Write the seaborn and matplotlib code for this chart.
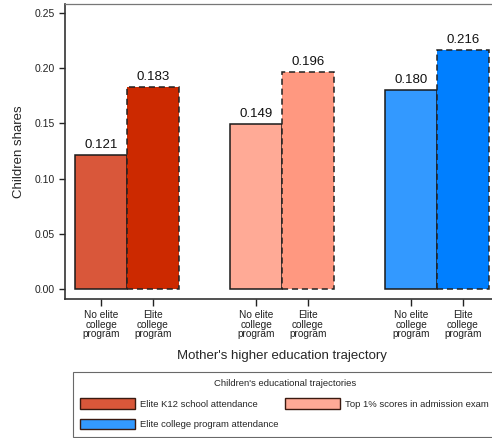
import matplotlib
matplotlib.use("Agg")
import matplotlib.pyplot as plt
from matplotlib.patches import Patch
import seaborn as sns
import pandas as pd

# bars: one per (group, mother trajectory), gaps between groups
categories = ["k12_no", "k12_elite", "gap1", "top_no", "top_elite", "gap2", "col_no", "col_elite"]
bar_keys = ["k12_no", "k12_elite", "top_no", "top_elite", "col_no", "col_elite"]
shares = [0.121, 0.183, 0.149, 0.196, 0.180, 0.216]
bar_colors = ["#D9573A", "#CC2900", "#FFAA96", "#FF9880", "#3399FF", "#007FFF"]
tick_labels = ["No elite\ncollege\nprogram", "Elite\ncollege\nprogram"] * 3
legend_labels = ["Elite K12 school attendance", "Top 1% scores in admission exam",
                 "Elite college program attendance"]
legend_colors = ["#D9573A", "#FFAA96", "#3399FF"]

sns.set_theme(style="white")
plt.rcParams["font.family"] = ["Liberation Sans", "DejaVu Sans"]

df = pd.DataFrame({"key": bar_keys, "share": shares})
palette = dict(zip(bar_keys, bar_colors))

fig = plt.figure(figsize=(4.92, 4.38), dpi=100)
ax = fig.add_axes([0.132, 0.3174, 0.882, 0.6735])

sns.barplot(data=df, x="key", y="share", hue="key", order=categories,
            palette=palette, dodge=False, legend=False, width=1.0,
            errorbar=None, saturation=1, ax=ax)

# solid outline for "no elite", dashed for "elite" mothers
for p in ax.patches:
    idx = int(round(p.get_x() + p.get_width() / 2))
    if idx in (1, 4, 7):
        p.set_edgecolor("#222222")
        p.set_linestyle((0, (4, 2.5)))
    else:
        p.set_edgecolor("#1a1a1a")
    p.set_linewidth(1.1)

for c in ax.containers:
    ax.bar_label(c, fmt="%.3f", padding=3, fontsize=9.5, color="#111111")

ax.set_xlim(-0.70, 7.7)
ax.set_ylim(-0.009, 0.258)
ax.set_yticks([0.0, 0.05, 0.10, 0.15, 0.20, 0.25])
ax.set_yticklabels(["0.00", "0.05", "0.10", "0.15", "0.20", "0.25"], fontsize=7.5, color="#222222")
ax.set_xticks([0, 1, 3, 4, 6, 7])
ax.set_xticklabels(tick_labels, fontsize=7.3, color="#222222", linespacing=0.95)
ax.tick_params(axis="both", which="both", direction="out", length=4, width=1, color="#222222",
               left=True, bottom=True, pad=3)
ax.tick_params(axis="x", length=5)

ax.set_ylabel("Children shares", fontsize=9.5, labelpad=7)
ax.set_xlabel("Mother's higher education trajectory", fontsize=9.5, labelpad=8)

for s in ["left", "bottom", "top", "right"]:
    ax.spines[s].set_visible(True)
    ax.spines[s].set_color("#333333")
    ax.spines[s].set_linewidth(1.2)
ax.spines["top"].set_color("#777777")
ax.spines["top"].set_linewidth(0.9)

# column-major fill: put college in col 1 row 2, top 1% in col 2 row 1
order = [0, 2, 1]
handles = [Patch(facecolor=legend_colors[i], edgecolor="#3a1a10", linewidth=1.0) for i in order]
labels = [legend_labels[i] for i in order]
leg = fig.legend(handles=handles, labels=labels, loc="upper left",
                 bbox_to_anchor=(0.148, 0.151), ncol=2, fontsize=6.8,
                 title="Children's educational trajectories", title_fontsize=6.8,
                 handlelength=5.8, handleheight=1.35, handletextpad=0.55,
                 columnspacing=0.7, labelspacing=1.05, frameon=True, fancybox=False,
                 borderpad=0.8, borderaxespad=0)
leg.get_frame().set_edgecolor("#444444")
leg.get_frame().set_linewidth(0.8)

fig.savefig("out.png", dpi=100)
